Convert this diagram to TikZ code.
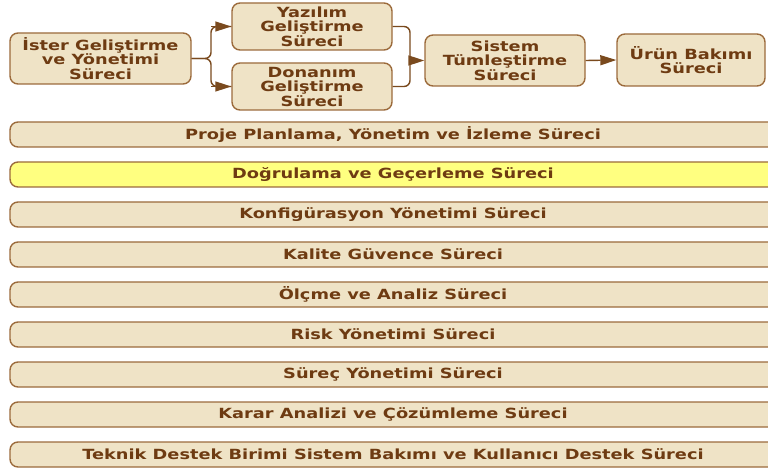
\documentclass[tikz,border=0pt]{standalone}
\usepackage{fontspec}
\setmainfont[FakeStretch=1.27]{DejaVu Sans}
\usetikzlibrary{arrows.meta}
\definecolor{boxfill}{HTML}{EFE3C6}
\definecolor{boxline}{HTML}{9C6B3C}
\definecolor{txt}{HTML}{6E3B12}
\definecolor{conn}{HTML}{7A4A1E}
\definecolor{hilite}{HTML}{FFFF80}
\begin{document}
\begin{tikzpicture}[x=1pt,y=-1pt,
  basebox/.style={draw=boxline, line width=1.4pt, fill=boxfill, rounded corners=8pt,
    text=txt, font=\bfseries\fontsize{14}{14.5}\selectfont, align=center, inner sep=0pt},
  topbox/.style={basebox, minimum width=160pt, minimum height=47pt},
  bar/.style={basebox, minimum width=766pt, minimum height=25pt},
  link/.style={draw=conn, line width=1.4pt, rounded corners=6pt},
  tip/.style={-{Triangle[length=16pt,width=10pt]}}
]
\useasboundingbox (0,0) rectangle (768,470);
\fill[white] (0,0) rectangle (768,470);
\clip (0,0) rectangle (768,470);

\node[topbox, minimum width=181pt, minimum height=51pt] (ister) at (100.5,58.5) {İster Geliştirme\\ve Yönetimi\\Süreci};
\node[topbox] (yaz) at (312,26.5) {Yazılım\\Geliştirme\\Süreci};
\node[topbox] (don) at (312,86.5) {Donanım\\Geliştirme\\Süreci};
\node[topbox, minimum height=51pt] (sis) at (505,60.5) {Sistem\\Tümleştirme\\Süreci};
\node[topbox, minimum width=148pt, minimum height=52pt] (urun) at (691,60) {Ürün Bakımı\\Süreci};

\coordinate (fork) at (211,58.5);
\coordinate (join) at (410,60.5);

\draw[link] (ister.east) -- (fork) |- (yaz.west);
\draw[link] (ister.east) -- (fork) |- (don.west);
\draw[link] (yaz.east) -| (join) |- (don.east);
\draw[link, tip] (fork |- yaz.west) -- (yaz.west);
\draw[link, tip] (fork |- don.west) -- (don.west);
\draw[link, tip] (join) -- (sis.west);
\draw[link, tip] (sis.east) -- (urun.west);

\node[bar] (b1) at (393,134.5) {Proje Planlama, Yönetim ve İzleme Süreci};
\node[bar, fill=hilite] (b2) at (393,174.5) {Doğrulama ve Geçerleme Süreci};
\node[bar] (b3) at (393,214.5) {Konfigürasyon Yönetimi Süreci};
\node[bar] (b4) at (393,254.5) {Kalite Güvence Süreci};
\node[bar] (b5) at (393,294.5) {Ölçme ve Analiz Süreci};
\node[bar] (b6) at (393,334.5) {Risk Yönetimi Süreci};
\node[bar] (b7) at (393,374.5) {Süreç Yönetimi Süreci};
\node[bar] (b8) at (393,414.5) {Karar Analizi ve Çözümleme Süreci};
\node[bar] (b9) at (393,454.5) {Teknik Destek Birimi Sistem Bakımı ve Kullanıcı Destek Süreci};
\end{tikzpicture}
\end{document}
